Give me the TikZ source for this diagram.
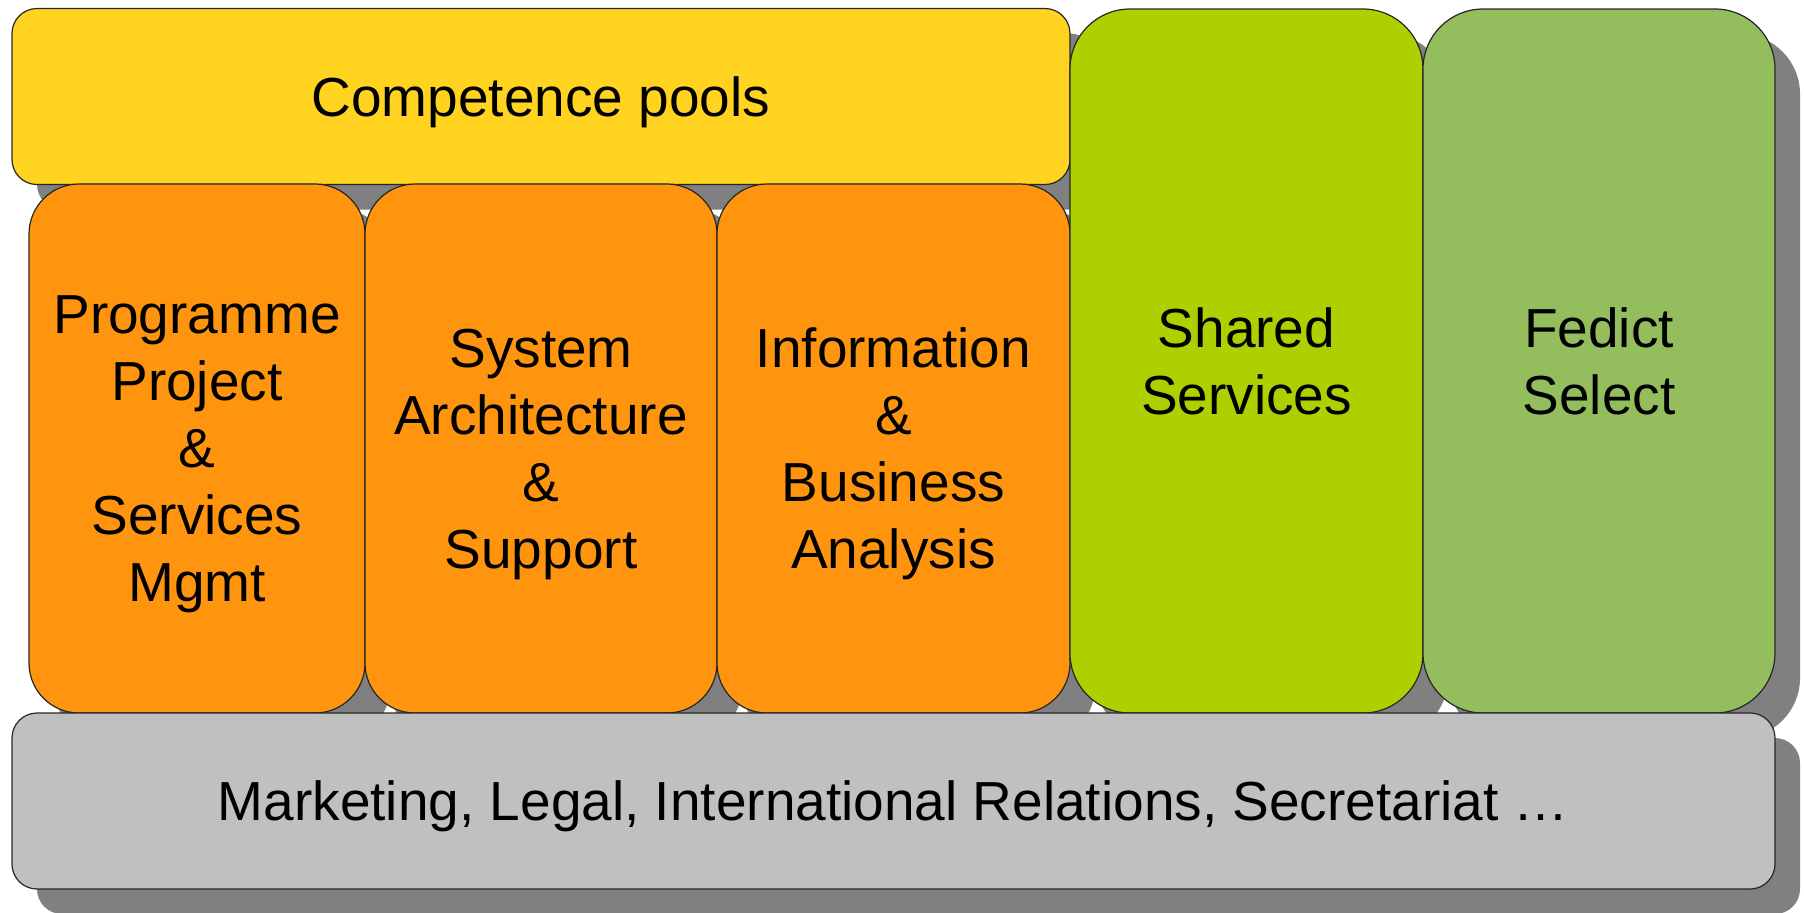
\documentclass[tikz,border=0pt]{standalone}
\usepackage{fontspec}
\setmainfont{Liberation Sans}
\usetikzlibrary{shadows}
\definecolor{poolyellow}{HTML}{FFD320}
\definecolor{poolorange}{HTML}{FF950E}
\definecolor{sharedgreen}{HTML}{AECF00}
\definecolor{selectgreen}{HTML}{94BD5E}
\definecolor{supportgray}{HTML}{C0C0C0}
\definecolor{shadowgray}{HTML}{808080}
\tikzset{
  box/.style={draw=black!85, line width=0.6pt, inner sep=0pt, outer sep=0pt,
    align=center, font=\fontsize{27.5}{33.5}\selectfont, text depth=0pt,
    drop shadow={shadow xshift=12.5pt, shadow yshift=-12.5pt, fill=shadowgray, opacity=1}},
  bar/.style={box, rounded corners=12.5pt, minimum height=88pt},
  pool/.style={box, rounded corners=25pt, minimum height=264.5pt},
  column/.style={box, rounded corners=30pt, minimum width=176.5pt, minimum height=352pt}
}
\begin{document}
\begin{tikzpicture}[x=0.5pt, y=-0.5pt]
  \useasboundingbox (0,0) rectangle (1804,912);
  \draw
    (541,96.5) node[bar, fill=poolyellow, minimum width=529pt] (pools){Competence pools}
    (197,448.5) node[pool, fill=poolorange, minimum width=168pt] (ppsm){Programme\\Project\\\&\\Services\\Mgmt}
    (541,448.5) node[pool, fill=poolorange, minimum width=176pt] (sas){System\\Architecture\\\&\\Support}
    (893.5,448.5) node[pool, fill=poolorange, minimum width=176.5pt] (iba){Information\\\&\\Business\\Analysis}
    (1246.5,361) node[column, fill=sharedgreen] (shared){Shared\\Services}
    (1599,361) node[column, fill=selectgreen, minimum width=176pt] (select){Fedict\\Select}
    (893.5,801) node[bar, fill=supportgray, minimum width=881.5pt] (support){Marketing, Legal, International Relations, Secretariat …};
\end{tikzpicture}
\end{document}
